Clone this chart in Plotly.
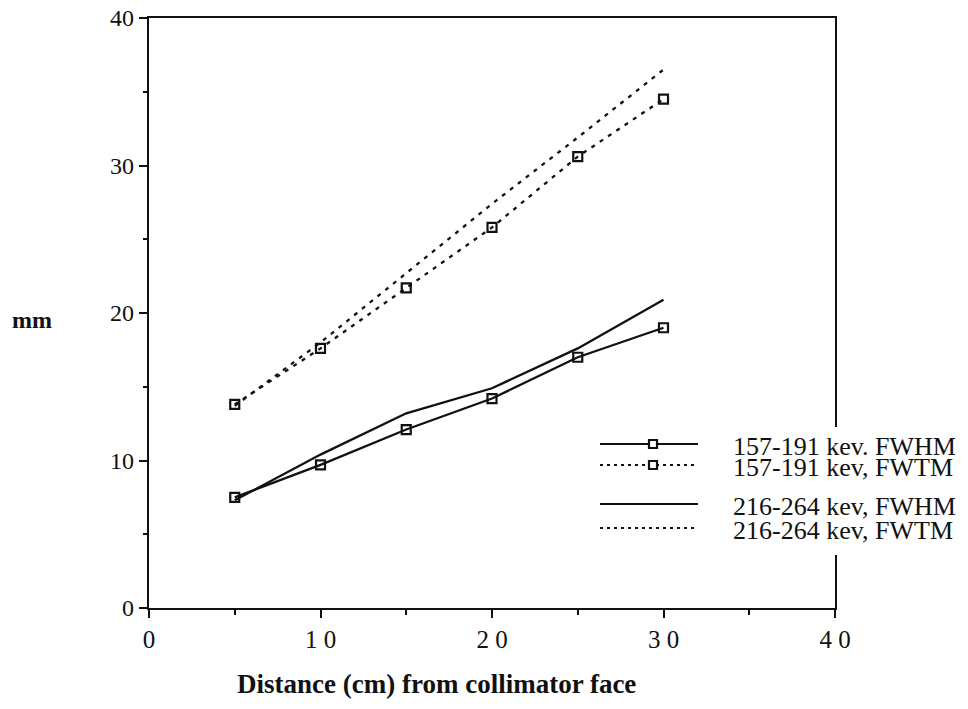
import plotly.graph_objects as go

# ---- data ----
distance_cm = [5, 10, 15, 20, 25, 30]
fwhm_157_191 = [7.5, 9.7, 12.1, 14.2, 17.0, 19.0]
fwtm_157_191 = [13.8, 17.6, 21.7, 25.8, 30.6, 34.5]
fwhm_216_264 = [7.3, 10.4, 13.2, 14.9, 17.6, 20.9]
fwtm_216_264 = [13.7, 18.0, 22.7, 27.4, 31.9, 36.5]

series_names = ["157-191 kev. FWHM", "157-191 kev, FWTM",
                "216-264 kev, FWHM", "216-264 kev, FWTM"]
x_tickvals = [0, 10, 20, 30, 40]
x_ticktext = ["0", "1 0", "2 0", "3 0", "4 0"]
y_tickvals = [0, 10, 20, 30, 40]

SERIF = "Liberation Serif, Times New Roman, serif"
BLACK = "#111111"
DOT = "4px,6px"

fig = go.Figure()

series = [
    (fwhm_157_191, "solid", True),
    (fwtm_157_191, DOT, True),
    (fwhm_216_264, "solid", False),
    (fwtm_216_264, DOT, False),
]
for (vals, dash, mark), name in zip(series, series_names):
    fig.add_trace(go.Scatter(
        x=distance_cm, y=vals, name=name,
        mode="lines+markers" if mark else "lines",
        line=dict(color=BLACK, width=2.3, dash=dash),
        marker=dict(symbol="square-open", size=9, color=BLACK,
                    line=dict(width=2.2, color=BLACK)),
        showlegend=False,
    ))

# plot area geometry (pixels)
L, R, T, B = 149, 835, 18, 608
W, H = R - L, B - T

def px(x):
    return (x - L) / W

def py(y):
    return (B - y) / H

shapes = []
annotations = []

# white legend backing
shapes.append(dict(type="rect", xref="paper", yref="paper",
                   x0=px(588), x1=px(968), y0=py(555), y1=py(427),
                   fillcolor="white", line=dict(width=0), layer="above"))

legend_rows = [444, 465, 504, 528]
legend_dash = ["solid", "3px,4px", "solid", "3px,4px"]
legend_mark = [True, True, False, False]
for name, ry, dsh, mk in zip(series_names, legend_rows, legend_dash, legend_mark):
    shapes.append(dict(type="line", xref="paper", yref="paper",
                       x0=px(600), x1=px(698), y0=py(ry), y1=py(ry),
                       line=dict(color=BLACK, width=2.2, dash=dsh), layer="above"))
    if mk:
        shapes.append(dict(type="rect", xref="paper", yref="paper",
                           x0=px(649), x1=px(657), y0=py(ry + 4), y1=py(ry - 4),
                           fillcolor="white", line=dict(color=BLACK, width=2.2),
                           layer="above"))
    annotations.append(dict(text=name, xref="paper", yref="paper",
                            x=px(731), y=py(ry + 2), xanchor="left", yanchor="middle",
                            showarrow=False,
                            font=dict(family=SERIF, size=26, color=BLACK)))

annotations.append(dict(text="<b>mm</b>", xref="paper", yref="paper",
                        x=px(32), y=py(320), xanchor="center", yanchor="middle",
                        showarrow=False, font=dict(family=SERIF, size=24, color=BLACK)))
annotations.append(dict(text="<b>Distance (cm) from collimator face</b>",
                        xref="paper", yref="paper",
                        x=px(436), y=py(684), xanchor="center", yanchor="middle",
                        showarrow=False, font=dict(family=SERIF, size=27, color=BLACK)))

fig.update_layout(
    width=968, height=709,
    margin=dict(l=L, r=968 - R, t=T, b=709 - B, autoexpand=False),
    paper_bgcolor="white", plot_bgcolor="white",
    shapes=shapes, annotations=annotations,
    showlegend=False,
)
fig.update_xaxes(
    range=[0, 40], tickvals=x_tickvals, ticktext=x_ticktext,
    showgrid=False, zeroline=False, automargin=False,
    showline=True, linecolor=BLACK, linewidth=2.3, mirror=True,
    ticks="outside", ticklen=8, tickwidth=2.3, tickcolor=BLACK,
    minor=dict(dtick=5, ticks="outside", ticklen=5, tickwidth=2, tickcolor=BLACK),
    tickfont=dict(family=SERIF, size=25, color=BLACK),
)
fig.update_yaxes(
    range=[0, 40], tickvals=y_tickvals,
    showgrid=False, zeroline=False, automargin=False,
    showline=True, linecolor=BLACK, linewidth=2.3, mirror=True,
    ticks="outside", ticklen=8, tickwidth=2.3, tickcolor=BLACK,
    minor=dict(dtick=5, ticks="outside", ticklen=4, tickwidth=2, tickcolor=BLACK),
    tickfont=dict(family=SERIF, size=24, color=BLACK),
)

fig.write_html("out.html", config={"displayModeBar": False},
               post_script="document.body.style.margin='0';")
